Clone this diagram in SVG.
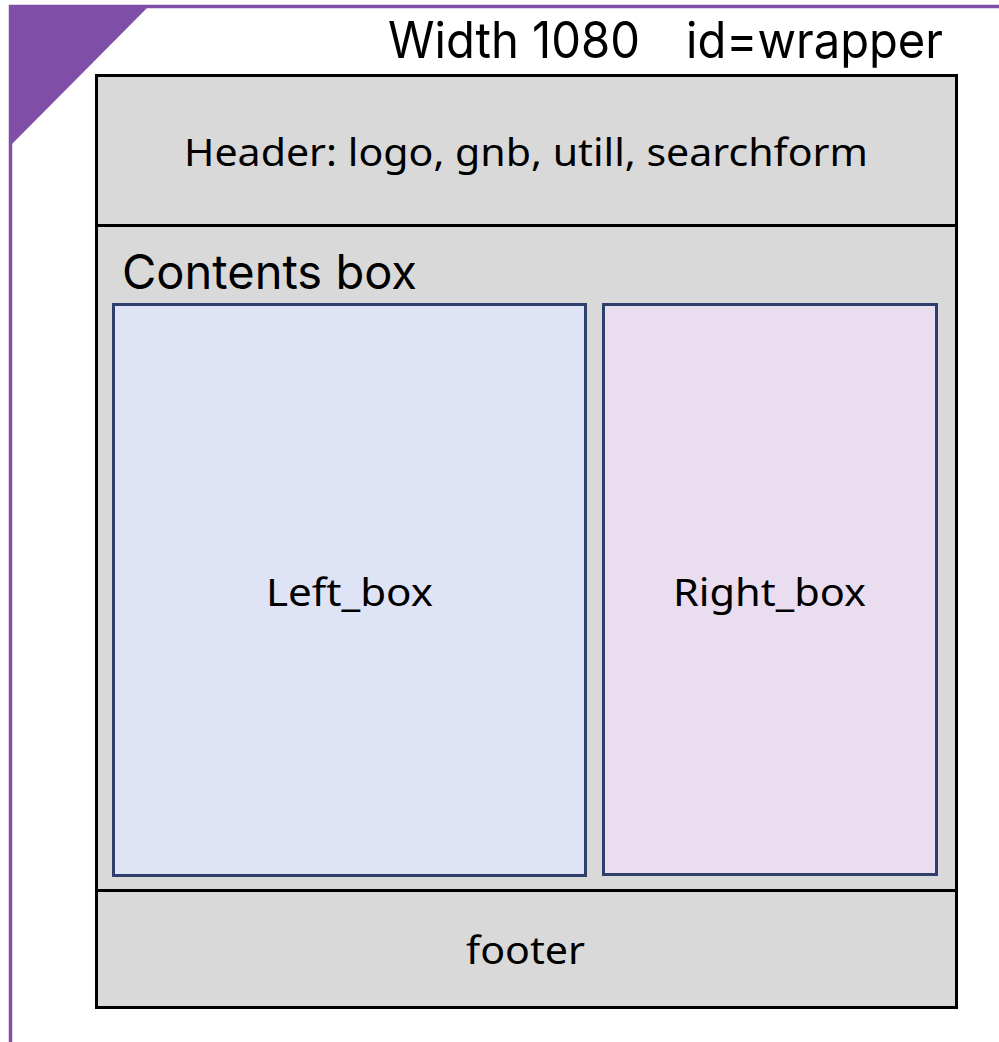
<svg xmlns="http://www.w3.org/2000/svg" width="999" height="1042" viewBox="0 0 999 1042">
<style>
.frame{fill:none;stroke:#7F4FA8;stroke-width:3.5}
.box{fill:#D9D9D9;stroke:#000;stroke-width:3}
.inner{stroke:#2F3F6B;stroke-width:3}
.t{font-family:"Noto Sans","Open Sans",sans-serif;fill:#000}
.big{font-family:"Inter","Noto Sans",sans-serif;fill:#000}
</style>
<rect width="999" height="1042" fill="#fff"/>
<g id="wrapper">
<polyline class="frame" points="10.5,1042 10.5,6.5 999,6.5"/>
<polygon points="9,5 149,6 11,145" fill="#7F4FA8"/>
<text class="big" x="388" y="58" font-size="50" textLength="252" lengthAdjust="spacingAndGlyphs">Width 1080</text>
<text class="big" x="686" y="58" font-size="50" textLength="257" lengthAdjust="spacingAndGlyphs">id=wrapper</text>
</g>
<g id="header">
<rect class="box" x="96.5" y="75.5" width="860" height="150"/>
<text class="t" x="184" y="166" font-size="38" textLength="684" lengthAdjust="spacingAndGlyphs">Header: logo, gnb, utill, searchform</text>
</g>
<g id="contents">
<rect class="box" x="96.5" y="225.5" width="860" height="665"/>
<text class="big" x="122" y="289" font-size="48" textLength="295" lengthAdjust="spacingAndGlyphs">Contents box</text>
</g>
<g id="left_box">
<rect class="inner" x="113.5" y="304.5" width="472" height="571" fill="#DEE4F6"/>
<text class="t" x="266" y="606" font-size="38" textLength="167" lengthAdjust="spacingAndGlyphs">Left_box</text>
</g>
<g id="right_box">
<rect class="inner" x="603.5" y="304.5" width="333" height="570" fill="#E9DDEF"/>
<text class="t" x="673" y="606" font-size="38" textLength="193" lengthAdjust="spacingAndGlyphs">Right_box</text>
</g>
<g id="footer">
<rect class="box" x="96.5" y="890.5" width="860" height="117"/>
<text class="t" x="466" y="964" font-size="38" textLength="119" lengthAdjust="spacingAndGlyphs">footer</text>
</g>
<g id="connectors"/>
</svg>
